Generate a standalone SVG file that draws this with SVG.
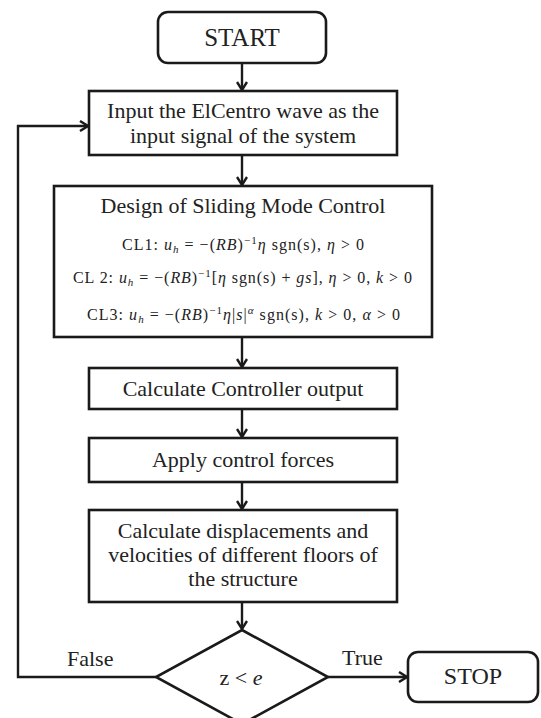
<svg xmlns="http://www.w3.org/2000/svg" width="541" height="718" viewBox="0 0 541 718">
<defs>
<style>
.box{fill:#fff;stroke:#1a1a1a;stroke-width:2.6}
.ln{fill:none;stroke:#1a1a1a;stroke-width:2.4}
.t{font-family:"Liberation Serif","Times New Roman",serif;fill:#222;font-size:22px}
.tc{text-anchor:middle}
.m{font-family:"Liberation Serif","Times New Roman",serif;fill:#222;font-size:16px}
.i{font-style:italic}
.s{font-size:11px}
</style>
<marker id="arr" markerWidth="12" markerHeight="12" refX="10" refY="6" orient="auto" markerUnits="userSpaceOnUse">
<path d="M2,1 L10,6 L2,11" fill="none" stroke="#1a1a1a" stroke-width="2.4"/>
</marker>
</defs>
<rect width="541" height="718" fill="#fff"/>
<g id="connectors">
<line class="ln" x1="242" y1="63" x2="242" y2="90" marker-end="url(#arr)"/>
<line class="ln" x1="242" y1="155" x2="242" y2="185" marker-end="url(#arr)"/>
<line class="ln" x1="242" y1="337" x2="242" y2="367" marker-end="url(#arr)"/>
<line class="ln" x1="242" y1="409" x2="242" y2="437" marker-end="url(#arr)"/>
<line class="ln" x1="242" y1="482" x2="242" y2="509" marker-end="url(#arr)"/>
<line class="ln" x1="242" y1="602" x2="242" y2="629" marker-end="url(#arr)"/>
<polyline class="ln" points="156,677 18,677 18,126 88,126" marker-end="url(#arr)"/>
<line class="ln" x1="328" y1="677" x2="407" y2="677" marker-end="url(#arr)"/>
<text class="t" x="67" y="666">False</text>
<text class="t" x="342" y="665">True</text>
</g>
<g id="start">
<rect class="box" x="158" y="12" width="168" height="51" rx="10"/>
<text class="t tc" x="242" y="46" font-size="25" style="font-size:25px">START</text>
</g>
<g id="input">
<rect class="box" x="89" y="91" width="308" height="64"/>
<text class="t tc" x="243" y="118">Input the ElCentro wave as the</text>
<text class="t tc" x="243" y="143">input signal of the system</text>
</g>
<g id="design">
<rect class="box" x="54" y="186" width="378" height="151"/>
<text class="t tc" x="243" y="213">Design of Sliding Mode Control</text>
<text class="m" x="122" y="250" textLength="242">CL1: <tspan class="i">u</tspan><tspan class="s i" dy="3">h</tspan><tspan dy="-3"> = −(</tspan><tspan class="i">RB</tspan>)<tspan class="s" dy="-6">−1</tspan><tspan class="i" dy="6">η</tspan> sgn(s),  <tspan class="i">η</tspan> &gt; 0</text>
<text class="m" x="73" y="283" textLength="339">CL 2: <tspan class="i">u</tspan><tspan class="s i" dy="3">h</tspan><tspan dy="-3"> = −(</tspan><tspan class="i">RB</tspan>)<tspan class="s" dy="-6">−1</tspan><tspan dy="6">[</tspan><tspan class="i">η</tspan> sgn(s) + <tspan class="i">gs</tspan>],  <tspan class="i">η</tspan> &gt; 0, <tspan class="i">k</tspan> &gt; 0</text>
<text class="m" x="87" y="320" textLength="313">CL3: <tspan class="i">u</tspan><tspan class="s i" dy="3">h</tspan><tspan dy="-3"> = −(</tspan><tspan class="i">RB</tspan>)<tspan class="s" dy="-6">−1</tspan><tspan class="i" dy="6">η</tspan>|<tspan class="i">s</tspan>|<tspan class="s i" dy="-6">α</tspan><tspan dy="6"> sgn(s),  </tspan><tspan class="i">k</tspan> &gt; 0, <tspan class="i">α</tspan> &gt; 0</text>
</g>
<g id="calc">
<rect class="box" x="89" y="368" width="308" height="41"/>
<text class="t tc" x="243" y="396">Calculate Controller output</text>
</g>
<g id="apply">
<rect class="box" x="89" y="438" width="308" height="44"/>
<text class="t tc" x="243" y="467">Apply control forces</text>
</g>
<g id="displacements">
<rect class="box" x="89" y="510" width="308" height="92"/>
<text class="t tc" x="243" y="538">Calculate displacements and</text>
<text class="t tc" x="243" y="562">velocities of different floors of</text>
<text class="t tc" x="243" y="586">the structure</text>
</g>
<g id="decision">
<polygon class="box" points="242,630 328,677 242,724 156,677"/>
<text class="t tc" x="241" y="685">z &lt; <tspan class="i">e</tspan></text>
</g>
<g id="stop">
<rect class="box" x="408" y="652" width="130" height="50" rx="10"/>
<text class="t tc" x="473" y="684" style="font-size:24px">STOP</text>
</g>
</svg>
